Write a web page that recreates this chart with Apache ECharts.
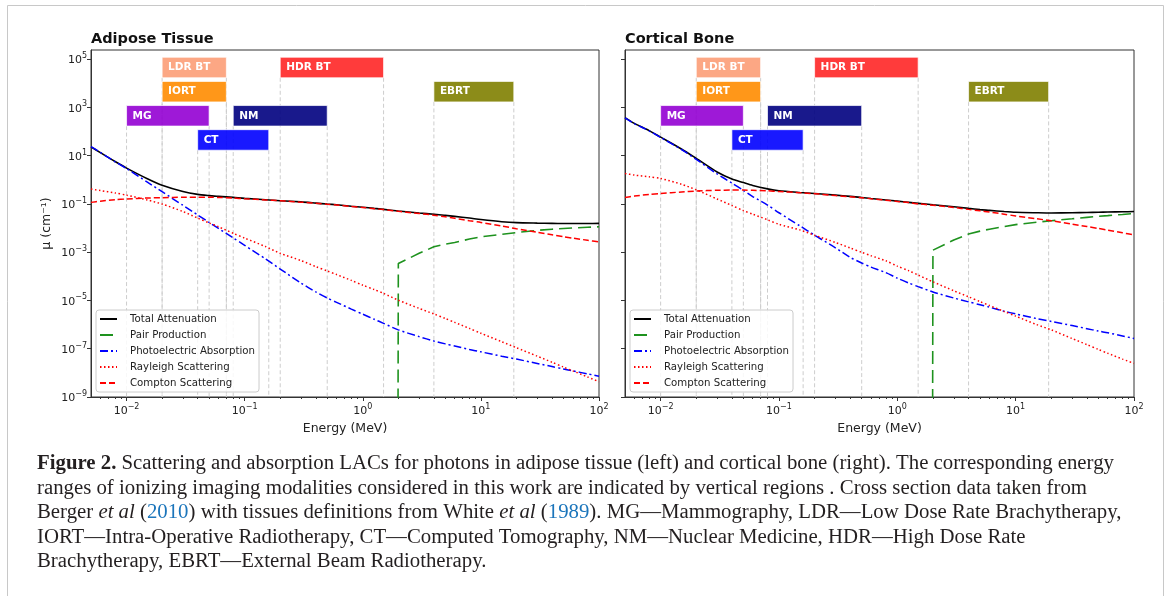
<!DOCTYPE html>
<html><head><meta charset="utf-8">
<script src="https://cdn.jsdelivr.net/npm/echarts@6/dist/echarts.min.js"></script>
<style>html,body{margin:0;padding:0;background:#fff}#c{width:1171px;height:596px}</style>
</head><body><div id="c"></div>
<script>
// ---------- data (log10 of attenuation coefficient, cm^-1) ----------
const energy = [0.005, 0.006, 0.008, 0.01, 0.015, 0.02, 0.03, 0.04, 0.05, 0.06, 0.08, 0.1, 0.15, 0.2, 0.3, 0.4, 0.5, 0.6, 0.8, 1, 1.25, 1.5, 2, 3, 4, 5, 6, 8, 10, 15, 20, 30, 40, 50, 60, 80, 100];

const adiposeTotal = [1.36, 1.12, 0.75, 0.48, 0.04, -0.23, -0.49, -0.61, -0.66, -0.69, -0.735, -0.775, -0.83, -0.87, -0.92, -0.97, -1.01, -1.04, -1.10, -1.14, -1.19, -1.23, -1.30, -1.38, -1.43, -1.48, -1.52, -1.59, -1.65, -1.74, -1.78, -1.80, -1.81, -1.815, -1.815, -1.815, -1.81];
const adiposePair = [null, null, null, null, null, null, null, null, null, null, null, null, null, null, null, null, null, null, null, null, null, null, -3.47, -3.05, -2.78, -2.67, -2.60, -2.46, -2.37, -2.26, -2.19, -2.10, -2.05, -2.02, -2.00, -1.97, -1.95];
const adiposePhoto = [1.37, 1.13, 0.74, 0.46, -0.10, -0.50, -1.06, -1.46, -1.77, -2.02, -2.41, -2.72, -3.28, -3.70, -4.28, -4.65, -4.90, -5.08, -5.36, -5.57, -5.78, -5.95, -6.22, -6.50, -6.68, -6.80, -6.89, -7.03, -7.13, -7.31, -7.43, -7.61, -7.74, -7.84, -7.92, -8.04, -8.14];
const adiposeRayleigh = [-0.39, -0.45, -0.55, -0.64, -0.84, -1.01, -1.32, -1.59, -1.79, -1.95, -2.22, -2.42, -2.77, -3.05, -3.35, -3.60, -3.78, -3.93, -4.17, -4.37, -4.55, -4.71, -4.99, -5.33, -5.56, -5.75, -5.91, -6.16, -6.36, -6.71, -6.96, -7.31, -7.56, -7.76, -7.92, -8.17, -8.37];
const adiposeCompton = [-0.94, -0.89, -0.83, -0.80, -0.76, -0.745, -0.73, -0.73, -0.73, -0.735, -0.76, -0.79, -0.84, -0.87, -0.93, -0.98, -1.02, -1.05, -1.11, -1.15, -1.20, -1.24, -1.31, -1.40, -1.47, -1.54, -1.60, -1.70, -1.77, -1.92, -2.03, -2.18, -2.28, -2.36, -2.42, -2.51, -2.58];

const boneTotal = [2.57, 2.33, 2.03, 1.76, 1.27, 0.88, 0.32, 0.03, -0.12, -0.24, -0.38, -0.46, -0.53, -0.57, -0.64, -0.69, -0.74, -0.78, -0.84, -0.89, -0.94, -0.98, -1.04, -1.12, -1.19, -1.24, -1.27, -1.32, -1.35, -1.37, -1.38, -1.37, -1.36, -1.35, -1.34, -1.33, -1.32];
const bonePair = [null, null, null, null, null, null, null, null, null, null, null, null, null, null, null, null, null, null, null, null, null, null, -2.92, -2.50, -2.25, -2.13, -2.05, -1.94, -1.86, -1.76, -1.70, -1.62, -1.56, -1.52, -1.49, -1.44, -1.40];
const bonePhoto = [2.56, 2.32, 2.02, 1.75, 1.25, 0.84, 0.24, -0.14, -0.44, -0.70, -1.05, -1.37, -1.91, -2.30, -2.82, -3.22, -3.45, -3.62, -3.85, -4.08, -4.28, -4.43, -4.65, -4.90, -5.06, -5.18, -5.28, -5.45, -5.56, -5.75, -5.87, -6.04, -6.17, -6.27, -6.34, -6.47, -6.58];
const boneRayleigh = [0.26, 0.19, 0.12, 0.05, -0.19, -0.42, -0.80, -1.07, -1.28, -1.43, -1.66, -1.85, -2.08, -2.30, -2.60, -2.83, -3.01, -3.15, -3.36, -3.58, -3.77, -3.95, -4.23, -4.60, -4.85, -5.05, -5.21, -5.46, -5.65, -6.00, -6.22, -6.58, -6.83, -7.03, -7.19, -7.43, -7.61];
const boneCompton = [-0.74, -0.68, -0.61, -0.57, -0.51, -0.47, -0.44, -0.43, -0.43, -0.44, -0.46, -0.49, -0.54, -0.58, -0.66, -0.71, -0.75, -0.79, -0.85, -0.90, -0.95, -1.00, -1.06, -1.15, -1.23, -1.29, -1.34, -1.43, -1.50, -1.62, -1.70, -1.84, -1.94, -2.02, -2.09, -2.20, -2.29];

const seriesNames = ['Total Attenuation', 'Pair Production', 'Photoelectric Absorption', 'Rayleigh Scattering', 'Compton Scattering'];

// imaging modality energy ranges (MeV)
const bandNames = ['LDR BT', 'HDR BT', 'IORT', 'EBRT', 'MG', 'NM', 'CT'];
const bandStart = [0.02, 0.2, 0.02, 4, 0.01, 0.08, 0.04];
const bandEnd = [0.07, 1.5, 0.07, 19, 0.05, 0.5, 0.16];
const bandRow = [5, 5, 4, 4, 3, 3, 2];

const xMajorTicks = [0.01, 0.1, 1, 10, 100];
const xMinorTicks = [0.006, 0.007, 0.008, 0.009, 0.02, 0.03, 0.04, 0.05, 0.06, 0.07, 0.08, 0.09, 0.2, 0.3, 0.4, 0.5, 0.6, 0.7, 0.8, 0.9, 2, 3, 4, 5, 6, 7, 8, 9, 20, 30, 40, 50, 60, 70, 80, 90];
const yMajorTicks = [1e-9, 1e-7, 1e-5, 1e-3, 1e-1, 1e1, 1e3, 1e5];

const captionLines = [
  '{b|Figure 2.} Scattering and absorption LACs for photons in adipose tissue (left) and cortical bone (right). The corresponding energy',
  'ranges of ionizing imaging modalities considered in this work are indicated by vertical regions . Cross section data taken from',
  'Berger {i|et al} ({l|2010}) with tissues definitions from White {i|et al} ({l|1989}). MG\u2014Mammography, LDR\u2014Low Dose Rate Brachytherapy,',
  'IORT\u2014Intra-Operative Radiotherapy, CT\u2014Computed Tomography, NM\u2014Nuclear Medicine, HDR\u2014High Dose Rate',
  'Brachytherapy, EBRT\u2014External Beam Radiotherapy.'
];

// ---------- styling ----------
const FONT = 'DejaVu Sans';
const CAP_FONT = 'Liberation Serif';
const CAP_SIZE = 20.8;
const X_MIN = 0.005, X_MAX = 100, Y_MIN = 1e-9, Y_MAX = Math.pow(10, 5.37);
const BOX_UP = 0.07, BOX_DOWN = 0.78;
const bandColors = ['rgba(252,160,122,0.92)', 'rgba(255,25,25,0.85)', 'rgba(255,140,0,0.9)', 'rgba(128,128,0,0.9)', 'rgba(148,0,211,0.9)', 'rgba(0,0,128,0.9)', 'rgba(0,0,255,0.9)'];
const lineStyles = [
  {color: '#000000', width: 1.6, type: 'solid'},
  {color: '#1e921e', width: 1.6, type: [13, 6]},
  {color: '#0000ff', width: 1.5, type: [8, 3, 2, 3]},
  {color: '#ff0000', width: 1.5, type: [1.5, 2.5]},
  {color: '#ff0000', width: 1.5, type: [6, 3]}
];
const grids = [
  {left: 91, top: 50, width: 508, height: 347},
  {left: 625, top: 50, width: 509, height: 347}
];

function supLabel(v) {
  const e = Math.round(Math.log10(v));
  return '{b|10}{s|' + String(e).replace('-', '\u2212') + '}';
}
const labelRich = {
  b: {fontFamily: FONT, fontSize: 11, color: '#222', lineHeight: 14, verticalAlign: 'bottom'},
  s: {fontFamily: FONT, fontSize: 8, color: '#222', lineHeight: 7, verticalAlign: 'top'}
};

const xAxes = [], yAxes = [], series = [], legends = [];
const tissueData = [
  [adiposeTotal, adiposePair, adiposePhoto, adiposeRayleigh, adiposeCompton],
  [boneTotal, bonePair, bonePhoto, boneRayleigh, boneCompton]
];

grids.forEach((g, gi) => {
  xAxes.push({
    type: 'log', gridIndex: gi, position: 'bottom', min: X_MIN, max: X_MAX,
    axisLine: {show: true, lineStyle: {color: '#333', width: 1}},
    axisTick: {show: true, customValues: xMajorTicks, length: 4, lineStyle: {color: '#333'}},
    axisLabel: {show: true, customValues: xMajorTicks, formatter: supLabel, rich: labelRich, margin: 6},
    splitLine: {show: false}, minorTick: {show: false},
    name: 'Energy (MeV)', nameLocation: 'middle', nameGap: 23,
    nameTextStyle: {fontFamily: FONT, fontSize: 12.5, color: '#222'}
  });
  xAxes.push({
    type: 'log', gridIndex: gi, position: 'bottom', min: X_MIN, max: X_MAX,
    axisLine: {show: false},
    axisTick: {show: true, customValues: xMinorTicks, length: 2, lineStyle: {color: '#333'}},
    axisLabel: {show: false}, splitLine: {show: false}
  });
  yAxes.push({
    type: 'log', gridIndex: gi, min: Y_MIN, max: Y_MAX,
    axisLine: {show: true, lineStyle: {color: '#333', width: 1}},
    axisTick: {show: true, customValues: yMajorTicks, length: 4, lineStyle: {color: '#333'}},
    axisLabel: {show: gi === 0, customValues: yMajorTicks, formatter: supLabel, rich: labelRich, margin: 4},
    splitLine: {show: false}, minorTick: {show: false},
    name: gi === 0 ? '\u03bc (cm\u207b\u00b9)' : '', nameLocation: 'middle', nameGap: 38, nameRotate: 90,
    nameTextStyle: {fontFamily: FONT, fontSize: 12.5, color: '#222'}
  });

  // modality bands
  series.push({
    type: 'custom', xAxisIndex: gi * 2, yAxisIndex: gi, z: 1, silent: true,
    data: bandNames.map((n, i) => [bandStart[i], bandEnd[i], bandRow[i]]),
    encode: {x: [0, 1], y: 2},
    renderItem: function (params, api) {
      const i = params.dataIndex;
      const x0 = api.value(0), x1 = api.value(1), row = api.value(2);
      const tl = api.coord([x0, Math.pow(10, row + BOX_UP)]);
      const br = api.coord([x1, Math.pow(10, row - BOX_DOWN)]);
      const b0 = api.coord([x0, Y_MIN]);
      const b1 = api.coord([x1, Y_MIN]);
      const dash = {stroke: '#cdcdcd', lineWidth: 1, lineDash: [4, 2.5]};
      return {
        type: 'group',
        children: [
          {type: 'line', shape: {x1: tl[0], y1: br[1], x2: b0[0], y2: b0[1]}, style: dash, z2: 1},
          {type: 'line', shape: {x1: br[0], y1: br[1], x2: b1[0], y2: b1[1]}, style: dash, z2: 1},
          {type: 'rect', shape: {x: tl[0], y: tl[1], width: br[0] - tl[0], height: br[1] - tl[1]},
            style: {fill: bandColors[i], stroke: 'rgba(255,255,255,0.7)', lineWidth: 1}, z2: 5},
          {type: 'text', x: tl[0] + 6, y: (tl[1] + br[1]) / 2,
            style: {text: bandNames[i], fill: '#fff', font: 'bold 10.5px ' + FONT, verticalAlign: 'middle', align: 'left'}, z2: 6}
        ]
      };
    }
  });

  tissueData[gi].forEach((arr, si) => {
    const ls = lineStyles[si];
    series.push({
      type: 'line', name: seriesNames[si], xAxisIndex: gi * 2, yAxisIndex: gi, z: 3,
      showSymbol: false, symbol: 'none', smooth: si === 1 ? false : 0.25, clip: true,
      lineStyle: {color: ls.color, width: ls.width, type: ls.type},
      itemStyle: {color: ls.color},
      data: energy.map((e, k) => [e, arr[k] === null ? 1e-300 : Math.pow(10, arr[k])])
    });
  });

  legends.push({
    data: seriesNames, orient: 'vertical', left: g.left + 5, top: 310,
    padding: [3, 4, 3, 3], itemGap: 4, itemWidth: 17, itemHeight: 10,
    itemStyle: {opacity: 0, borderWidth: 0},
    backgroundColor: 'rgba(255,255,255,0.85)', borderColor: '#cccccc', borderWidth: 1, borderRadius: 3,
    textStyle: {fontFamily: FONT, fontSize: 10.2, color: '#222', lineHeight: 12, padding: [0, 0, 0, 8]},
    selectedMode: false
  });
});

const graphics = [
  {type: 'rect', shape: {x: 7.5, y: 5.5, width: 1156, height: 600}, style: {fill: 'none', stroke: '#c8c8c8', lineWidth: 1}, silent: true},
  {type: 'text', x: 91, y: 39, style: {text: 'Adipose Tissue', font: 'bold 14.5px ' + FONT, fill: '#111', verticalAlign: 'middle'}},
  {type: 'text', x: 625, y: 39, style: {text: 'Cortical Bone', font: 'bold 14.5px ' + FONT, fill: '#111', verticalAlign: 'middle'}}
];
const capRich = {
  b: {fontFamily: CAP_FONT, fontSize: CAP_SIZE, fontWeight: 'bold', fill: '#231f20'},
  i: {fontFamily: CAP_FONT, fontSize: CAP_SIZE, fontStyle: 'italic', fill: '#231f20'},
  l: {fontFamily: CAP_FONT, fontSize: CAP_SIZE, fill: '#1b75bb'}
};
captionLines.forEach((t, i) => {
  graphics.push({type: 'text', x: 37, y: 464 + i * 24.5,
    style: {text: t, fontFamily: CAP_FONT, fontSize: CAP_SIZE, fill: '#231f20', verticalAlign: 'middle', rich: capRich}});
});

const chart = echarts.init(document.getElementById('c'), null, {renderer: 'canvas'});
chart.setOption({
  animation: false,
  backgroundColor: '#ffffff',
  grid: grids.map(g => Object.assign({show: true, borderColor: '#333', borderWidth: 1, backgroundColor: 'transparent'}, g)),
  xAxis: xAxes, yAxis: yAxes, series: series, legend: legends, graphic: graphics
});
</script></body></html>
